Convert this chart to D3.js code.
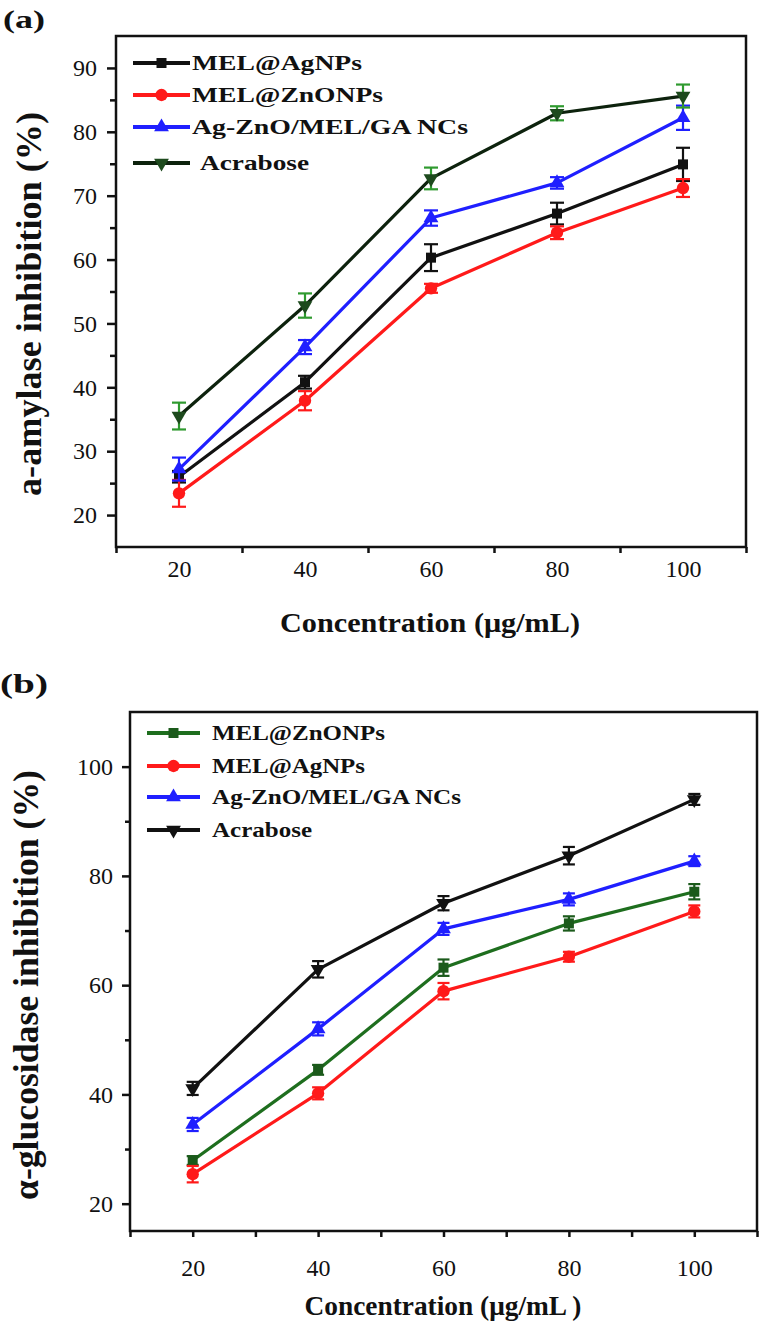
<!DOCTYPE html>
<html><head><meta charset="utf-8">
<script src="https://cdn.jsdelivr.net/npm/d3@7"></script>
<style>html,body{margin:0;padding:0;background:#fff;} svg{display:block;}</style>
</head><body>
<svg id="chart" width="763" height="1324"></svg>
<script>
// ---------- DATA ----------
const concentrations = [20, 40, 60, 80, 100];
const xLabelTicks = [20, 40, 60, 80, 100];

// Panel (a): alpha-amylase inhibition (%)
const amylaseNames = ["MEL@AgNPs", "MEL@ZnONPs", "Ag-ZnO/MEL/GA NCs", " Acrabose"];
const amylaseAgNPs      = [26.0, 40.8, 60.3, 67.2, 74.9];
const amylaseAgNPsErr   = [0.9, 1.0, 2.1, 1.7, 2.6];
const amylaseZnONPs     = [23.4, 37.9, 55.5, 64.2, 71.2];
const amylaseZnONPsErr  = [2.1, 1.5, 0.7, 1.0, 1.4];
const amylaseNCs        = [27.2, 46.3, 66.5, 72.0, 82.2];
const amylaseNCsErr     = [1.8, 1.1, 1.2, 0.9, 1.9];
const amylaseAcrabose   = [35.5, 52.8, 72.7, 82.9, 85.6];
const amylaseAcraboseErr= [2.1, 1.9, 1.7, 1.1, 1.8];
const amylaseYMajor = [20, 30, 40, 50, 60, 70, 80, 90];
const amylaseYMinor = [25, 35, 45, 55, 65, 75, 85];
const amylaseXTicks = [10, 30, 50, 70, 90, 110];

// Panel (b): alpha-glucosidase inhibition (%)
const glucoNames = ["MEL@ZnONPs", "MEL@AgNPs", "Ag-ZnO/MEL/GA NCs", "Acrabose"];
const glucoZnONPs      = [27.9, 44.5, 63.2, 71.3, 77.1];
const glucoZnONPsErr   = [0.8, 0.9, 1.5, 1.3, 1.4];
const glucoAgNPs       = [25.4, 40.2, 58.9, 65.2, 73.5];
const glucoAgNPsErr    = [1.5, 1.1, 1.5, 0.9, 1.1];
const glucoNCs         = [34.5, 52.0, 70.3, 75.7, 82.7];
const glucoNCsErr      = [1.2, 1.2, 1.1, 1.1, 0.9];
const glucoAcrabose    = [41.1, 62.9, 75.0, 83.7, 94.0];
const glucoAcraboseErr = [1.2, 1.5, 1.3, 1.6, 1.0];
const glucoYMajor = [20, 40, 60, 80, 100];
const glucoYMinor = [30, 50, 70, 90];
const glucoXTicks = [10, 20, 30, 40, 50, 60, 70, 80, 90, 100, 110];

// ---------- DRAWING ----------
const SERIF = "'Liberation Serif','Times New Roman',serif";
const svg = d3.select("#chart");

const triDown = { draw(ctx, size) { const s = Math.sqrt(size * 4 / Math.sqrt(3)); const h = s * Math.sqrt(3) / 2;
  ctx.moveTo(-s/2, -h/3); ctx.lineTo(s/2, -h/3); ctx.lineTo(0, 2*h/3); ctx.closePath(); } };
const triUp = { draw(ctx, size) { const s = Math.sqrt(size * 4 / Math.sqrt(3)); const h = s * Math.sqrt(3) / 2;
  ctx.moveTo(-s/2, h/3); ctx.lineTo(s/2, h/3); ctx.lineTo(0, -2*h/3); ctx.closePath(); } };
const shapes = { square: [d3.symbolSquare, 100], circle: [d3.symbolCircle, 120], up: [triUp, 95], down: [triDown, 95] };

function drawPanel(cfg) {
  const g = svg.append("g");
  const x = d3.scaleLinear().domain([10, 110]).range(cfg.xRange);
  const y = d3.scaleLinear().domain(cfg.yDomain).range(cfg.yRange);
  const [x0, x1] = cfg.xRange, [yb, yt] = cfg.yRange;

  // frame
  g.append("rect").attr("x", x0).attr("y", yt).attr("width", x1 - x0).attr("height", yb - yt)
    .attr("fill", "none").attr("stroke", "#111").attr("stroke-width", 2.5);

  // x ticks
  const xt = g.append("g").attr("transform", `translate(0,${yb})`)
    .call(d3.axisBottom(x).tickValues(cfg.xTicks).tickSize(cfg.xTickLen).tickFormat(""));
  xt.select(".domain").remove();
  xt.selectAll("line").attr("stroke", "#111").attr("stroke-width", 2.5);
  const xl = g.append("g").attr("transform", `translate(0,${yb})`)
    .call(d3.axisBottom(x).tickValues(xLabelTicks).tickSize(0).tickFormat(d3.format("d")));
  xl.select(".domain").remove();
  xl.selectAll("text").attr("y", cfg.xLabelY).attr("dy", null)
    .attr("font-family", SERIF).attr("font-size", 24).attr("fill", "#111");

  // y ticks
  const ym = g.append("g").attr("transform", `translate(${x0},0)`)
    .call(d3.axisLeft(y).tickValues(cfg.yMajor).tickSize(cfg.yMajorLen).tickFormat(d3.format("d")));
  ym.select(".domain").remove();
  ym.selectAll("line").attr("stroke", "#111").attr("stroke-width", 2.5);
  ym.selectAll("text").attr("x", cfg.yLabelX).attr("font-family", SERIF).attr("font-size", 24).attr("fill", "#111");
  const yn = g.append("g").attr("transform", `translate(${x0},0)`)
    .call(d3.axisLeft(y).tickValues(cfg.yMinor).tickSize(cfg.yMinorLen).tickFormat(""));
  yn.select(".domain").remove();
  yn.selectAll("line").attr("stroke", "#111").attr("stroke-width", 2.5);

  // series
  const line = d3.line().x((d, i) => x(concentrations[i])).y(d => y(d));
  cfg.series.forEach(s => {
    const sg = g.append("g");
    sg.append("path").datum(s.values).attr("d", line).attr("fill", "none")
      .attr("stroke", s.line).attr("stroke-width", 3.2).attr("stroke-linejoin", "round");
    s.values.forEach((v, i) => {
      const cx = x(concentrations[i]), e = s.err[i];
      const eg = sg.append("g").attr("stroke", s.errColor).attr("stroke-width", 2.2);
      eg.append("line").attr("x1", cx).attr("x2", cx).attr("y1", y(v + e)).attr("y2", y(v - e));
      [v + e, v - e].forEach(t => eg.append("line").attr("x1", cx - cfg.cap / 2).attr("x2", cx + cfg.cap / 2)
        .attr("y1", y(t)).attr("y2", y(t)));
    });
    const [type, size] = shapes[s.shape];
    sg.selectAll("path.m").data(s.values).join("path").attr("class", "m")
      .attr("d", d3.symbol(type, size)).attr("fill", s.marker)
      .attr("transform", (d, i) => `translate(${x(concentrations[i])},${y(d)})`);
  });

  // legend
  const L = cfg.legend;
  cfg.series.forEach((s, i) => {
    const ly = L.ys[i];
    g.append("line").attr("x1", L.x1).attr("x2", L.x2).attr("y1", ly).attr("y2", ly)
      .attr("stroke", s.line).attr("stroke-width", 4);
    const [type, size] = shapes[s.shape];
    g.append("path").attr("d", d3.symbol(type, size)).attr("fill", s.marker)
      .attr("transform", `translate(${(L.x1 + L.x2) / 2},${ly})`);
    g.append("text").attr("x", L.tx[i]).attr("y", ly + 7).text(s.name.trim())
      .attr("font-family", SERIF).attr("font-weight", "bold").attr("font-size", 22).attr("fill", "#111")
      .attr("textLength", L.lens[i]).attr("lengthAdjust", "spacingAndGlyphs");
  });

  // titles
  g.append("text").attr("x", cfg.xTitle.x).attr("y", cfg.xTitle.y).attr("text-anchor", "middle")
    .attr("font-family", SERIF).attr("font-weight", "bold").attr("font-size", cfg.xTitle.size).attr("fill", "#111")
    .attr("textLength", cfg.xTitle.len).attr("lengthAdjust", "spacingAndGlyphs").text(cfg.xTitle.text);
  g.append("text").attr("transform", `translate(${cfg.yTitle.x},${cfg.yTitle.y}) rotate(-90)`)
    .attr("text-anchor", "middle").attr("font-family", SERIF).attr("font-weight", "bold")
    .attr("font-size", cfg.yTitle.size).attr("fill", "#111")
    .attr("textLength", cfg.yTitle.len).attr("lengthAdjust", "spacingAndGlyphs").text(cfg.yTitle.text);
  g.append("text").attr("x", cfg.tag.x).attr("y", cfg.tag.y).attr("font-family", SERIF)
    .attr("font-weight", "bold").attr("font-size", cfg.tag.size).attr("fill", "#111")
    .attr("textLength", cfg.tag.len).attr("lengthAdjust", "spacingAndGlyphs").text(cfg.tag.text);
}

drawPanel({
  xRange: [116, 746], yDomain: [15, 95], yRange: [547, 36],
  xTicks: amylaseXTicks, xTickLen: 6, xLabelY: 30,
  yMajor: amylaseYMajor, yMinor: amylaseYMinor, yMajorLen: 9, yMinorLen: 6, yLabelX: -19,
  cap: 14,
  series: [
    { name: amylaseNames[0], values: amylaseAgNPs, err: amylaseAgNPsErr, line: "#111111", marker: "#111111", errColor: "#111111", shape: "square" },
    { name: amylaseNames[1], values: amylaseZnONPs, err: amylaseZnONPsErr, line: "#ff1a1a", marker: "#ff1a1a", errColor: "#ff1a1a", shape: "circle" },
    { name: amylaseNames[2], values: amylaseNCs, err: amylaseNCsErr, line: "#1f1fff", marker: "#1f1fff", errColor: "#1f1fff", shape: "up" },
    { name: amylaseNames[3], values: amylaseAcrabose, err: amylaseAcraboseErr, line: "#0d220d", marker: "#1d4a1d", errColor: "#2f9a2f", shape: "down" }
  ],
  legend: { x1: 133, x2: 190, ys: [63, 95, 127, 163], tx: [192, 192, 192, 200], lens: [170, 191, 276, 109] },
  xTitle: { text: "Concentration (μg/mL)", x: 430, y: 632, size: 28, len: 300 },
  yTitle: { text: "a-amylase inhibition (%)", x: 41, y: 304, size: 36, len: 384 },
  tag: { text: "(a)", x: 3, y: 28, size: 25, len: 42 }
});

drawPanel({
  xRange: [130, 757], yDomain: [15, 110], yRange: [1231, 712],
  xTicks: glucoXTicks, xTickLen: 6, xLabelY: 45,
  yMajor: glucoYMajor, yMinor: glucoYMinor, yMajorLen: 8, yMinorLen: 5, yLabelX: -17,
  cap: 12,
  series: [
    { name: glucoNames[0], values: glucoZnONPs, err: glucoZnONPsErr, line: "#1e6e1e", marker: "#1b5a1b", errColor: "#1b5a1b", shape: "square" },
    { name: glucoNames[1], values: glucoAgNPs, err: glucoAgNPsErr, line: "#ff1a1a", marker: "#ff1a1a", errColor: "#ff1a1a", shape: "circle" },
    { name: glucoNames[2], values: glucoNCs, err: glucoNCsErr, line: "#1f1fff", marker: "#1f1fff", errColor: "#1f1fff", shape: "up" },
    { name: glucoNames[3], values: glucoAcrabose, err: glucoAcraboseErr, line: "#111111", marker: "#111111", errColor: "#111111", shape: "down" }
  ],
  legend: { x1: 147, x2: 200, ys: [733, 766, 797, 830], tx: [212, 212, 212, 212], lens: [173, 153, 249, 100] },
  xTitle: { text: "Concentration (μg/mL )", x: 443, y: 1315, size: 27, len: 277 },
  yTitle: { text: "α-glucosidase inhibition (%)", x: 38, y: 985, size: 35, len: 430 },
  tag: { text: "(b)", x: 0, y: 693, size: 28, len: 48 }
});
</script>
</body></html>
